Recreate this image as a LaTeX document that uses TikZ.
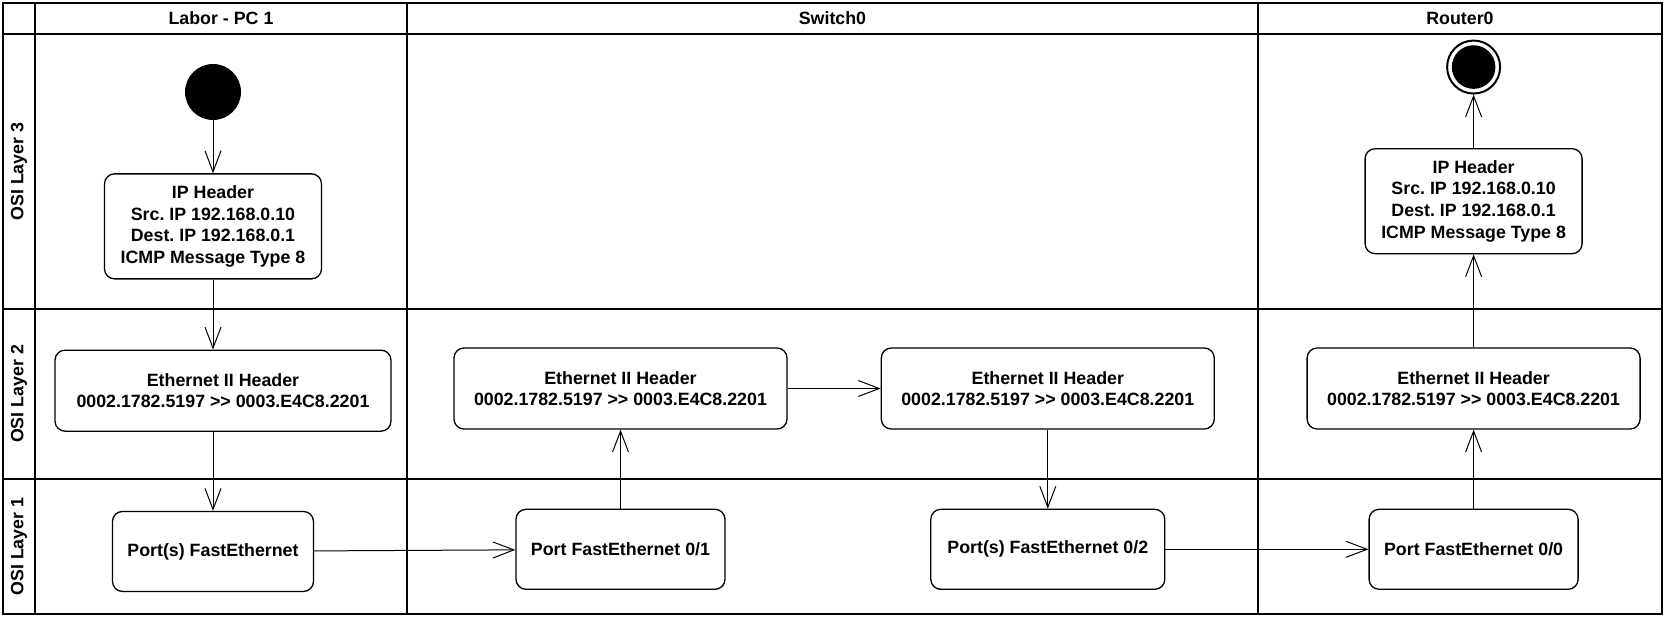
\documentclass[tikz,border=0pt]{standalone}
\usepackage{fontspec}
\setmainfont{Liberation Sans}
\usetikzlibrary{positioning, arrows.meta}
\frenchspacing
\tikzset{
    lane/.style={draw=black, line width=2.5pt},
    laneTitle/.style={font=\bfseries\fontsize{17.8}{21.7}\selectfont, anchor=center, inner sep=0pt},
    act/.style={rectangle, draw=black, line width=1.3pt, fill=white, rounded corners=10pt, align=center, inner sep=0pt, font=\bfseries\fontsize{17.8}{21.7}\selectfont},
    ipbox/.style={act, minimum width=217pt, minimum height=105pt},
    ethbox/.style={act, minimum width=333pt, minimum height=81pt},
    portbox/.style={act, minimum width=209pt, minimum height=80pt},
    startState/.style={circle, fill=black, minimum size=56pt, inner sep=0pt},
    endState/.style={circle, draw=black, line width=2pt, fill=white, minimum size=53pt, inner sep=0pt, path picture={\fill[black] (path picture bounding box.center) circle (21.8pt);}},
    arrow/.style={-{Straight Barb[length=21pt, width=16pt]}, line width=1pt}
}
\newcommand{\macline}{0002.1782.5197 >{}> 0003.E4C8.2201}
\begin{document}
\begin{tikzpicture}[x=1pt, y=1pt]
    \useasboundingbox (0,0) rectangle (1666,-619);

    % swimlanes
    \draw[lane] (3,-3) rectangle (1662,-614);
    \draw[lane] (3,-34) -- (1662,-34);
    \draw[lane] (3,-309) -- (1662,-309);
    \draw[lane] (3,-479) -- (1662,-479);
    \draw[lane] (35,-3) -- (35,-614);
    \draw[lane] (407,-3) -- (407,-614);
    \draw[lane] (1258,-3) -- (1258,-614);

    \node[laneTitle] (PcTitle) at (221,-18.5) {Labor - PC 1};
    \node[laneTitle] (SwTitle) at (832.5,-18.5) {Switch0};
    \node[laneTitle] (RtTitle) at (1460,-18.5) {Router0};
    \node[laneTitle, rotate=90] (Layer3) at (19,-171.5) {OSI Layer 3};
    \node[laneTitle, rotate=90] (Layer2) at (19,-394) {OSI Layer 2};
    \node[laneTitle, rotate=90] (Layer1) at (19,-546.5) {OSI Layer 1};

    % Labor - PC 1
    \node[startState] (Start) at (213,-92) {};
    \node[ipbox, below=53pt of Start] (IpPc) {IP Header\\Src. IP 192.168.0.10\\Dest. IP 192.168.0.1\\ICMP Message Type 8};
    \node[ethbox, minimum width=336pt, below=70pt of IpPc, xshift=10pt] (EthPc) {Ethernet II Header\\\macline};
    \node[portbox, minimum width=201pt, below=79pt of EthPc, xshift=-10pt] (PortPc) {Port(s) FastEthernet};

    % Switch0
    \node[ethbox] (EthSwIn) at (620.5,-388.5) {Ethernet II Header\\\macline};
    \node[portbox, below=79pt of EthSwIn] (PortSwIn) {Port FastEthernet 0/1};
    \node[ethbox, right=93pt of EthSwIn] (EthSwOut) {Ethernet II Header\\\macline};
    \node[portbox, minimum width=234pt, below=79pt of EthSwOut] (PortSwOut) {Port(s) FastEthernet 0/2};

    % Router0
    \node[portbox, right=203pt of PortSwOut] (PortRt) {Port FastEthernet 0/0};
    \node[ethbox, above=79pt of PortRt] (EthRt) {Ethernet II Header\\\macline};
    \node[ipbox, above=93pt of EthRt] (IpRt) {IP Header\\Src. IP 192.168.0.10\\Dest. IP 192.168.0.1\\ICMP Message Type 8};
    \node[endState, above=53.5pt of IpRt] (End) {};

    \draw[arrow] (Start) -- (IpPc);
    \draw[arrow] (IpPc) -- (IpPc |- EthPc.north);
    \draw[arrow] (EthPc.south -| PortPc) -- (PortPc);
    \draw[arrow] (PortPc) -- (PortSwIn);
    \draw[arrow] (PortSwIn) -- (EthSwIn);
    \draw[arrow] (EthSwIn) -- (EthSwOut);
    \draw[arrow] (EthSwOut) -- (PortSwOut);
    \draw[arrow] (PortSwOut) -- (PortRt);
    \draw[arrow] (PortRt) -- (EthRt);
    \draw[arrow] (EthRt) -- (IpRt);
    \draw[arrow] (IpRt) -- (End);
\end{tikzpicture}
\end{document}
